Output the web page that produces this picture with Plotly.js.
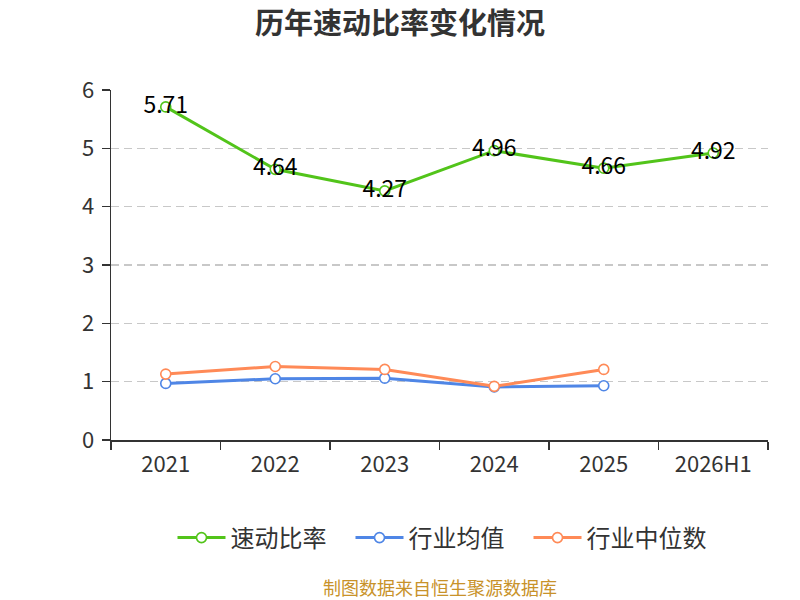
<!DOCTYPE html>
<html>
<head>
<meta charset="utf-8">
<script src="https://cdn.plot.ly/plotly-3.0.1.min.js"></script>
<style>
  html, body { margin: 0; padding: 0; background: #fff; }
  #chart { width: 800px; height: 600px; }
</style>
</head>
<body>
<div id="chart"></div>
<script>
// ── Data ─────────────────────────────────────────────
const years      = ['2021', '2022', '2023', '2024', '2025', '2026H1'];
const quickRatio = [5.71, 4.64, 4.27, 4.96, 4.66, 4.92];
const indAvg     = [0.97, 1.05, 1.06, 0.91, 0.93, null];
const indMedian  = [1.13, 1.26, 1.21, 0.92, 1.21, null];
const yTicks     = [0, 1, 2, 3, 4, 5, 6];

// ── Colours ──────────────────────────────────────────
const C = {
  green:  '#52c41a',
  blue:   '#4f86e6',
  orange: '#ff8a57',
  text:   '#333333',
  grid:   '#c8c8c8',
  source: '#c8922a',
};

const FONT = '"Noto Sans CJK SC", "Noto Sans", sans-serif';

function lineTrace(name, y, color, withText) {
  return {
    type: 'scatter',
    mode: withText ? 'lines+markers+text' : 'lines+markers',
    name,
    x: years,
    y,
    line: { color, width: 3 },
    marker: { symbol: 'circle', size: 10, color: '#ffffff', line: { color, width: 1.6 } },
    text: withText ? y.map(v => v.toFixed(2)) : undefined,
    textposition: 'middle center',
    textfont: { size: 23, color: '#000000', family: FONT },
    cliponaxis: false,
    connectgaps: false,
  };
}

const traces = [
  lineTrace('速动比率', quickRatio, C.green, true),
  lineTrace('行业均值', indAvg, C.blue, false),
  lineTrace('行业中位数', indMedian, C.orange, false),
];

const layout = {
  width: 800,
  height: 600,
  paper_bgcolor: '#ffffff',
  plot_bgcolor: '#ffffff',
  font: { family: FONT, color: C.text },
  margin: { t: 90, r: 32, b: 160, l: 111 },
  title: {
    text: '<b>历年速动比率变化情况</b>',
    font: { size: 29, color: C.text, family: FONT },
    x: 0.5, xanchor: 'center',
    y: 0.96, yanchor: 'middle',
  },
  xaxis: {
    type: 'category',
    range: [-0.5, 5.5],
    showgrid: false,
    showline: true,
    linecolor: C.text,
    linewidth: 1.5,
    ticks: 'outside',
    tickson: 'boundaries',
    ticklen: 8,
    tickcolor: C.text,
    tickwidth: 1.5,
    tickfont: { size: 22, color: C.text },
    ticklabelstandoff: 4,
    zeroline: false,
    fixedrange: true,
  },
  yaxis: {
    range: [0, 6],
    tickvals: yTicks,
    showgrid: true,
    gridcolor: C.grid,
    griddash: '8px,5px',
    gridwidth: 1.5,
    showline: true,
    linecolor: C.text,
    linewidth: 1.5,
    ticks: 'outside',
    ticklen: 8,
    tickcolor: C.text,
    tickwidth: 1.5,
    tickfont: { size: 22, color: C.text },
    ticklabelstandoff: 3,
    zeroline: false,
    fixedrange: true,
  },
  showlegend: true,
  legend: {
    orientation: 'h',
    x: 0.5, xanchor: 'center',
    y: -0.28, yanchor: 'middle',
    font: { size: 24, color: C.text },
    itemwidth: 48,
    entrywidth: 115,
    traceorder: 'normal',
  },
  annotations: [{
    text: '制图数据来自恒生聚源数据库',
    xref: 'paper', yref: 'paper',
    x: 0.5, y: -0.42,
    xanchor: 'center', yanchor: 'middle',
    showarrow: false,
    font: { size: 18, color: C.source, family: FONT },
  }],
};

Plotly.newPlot('chart', traces, layout, { displayModeBar: false, staticPlot: true });
</script>
</body>
</html>
